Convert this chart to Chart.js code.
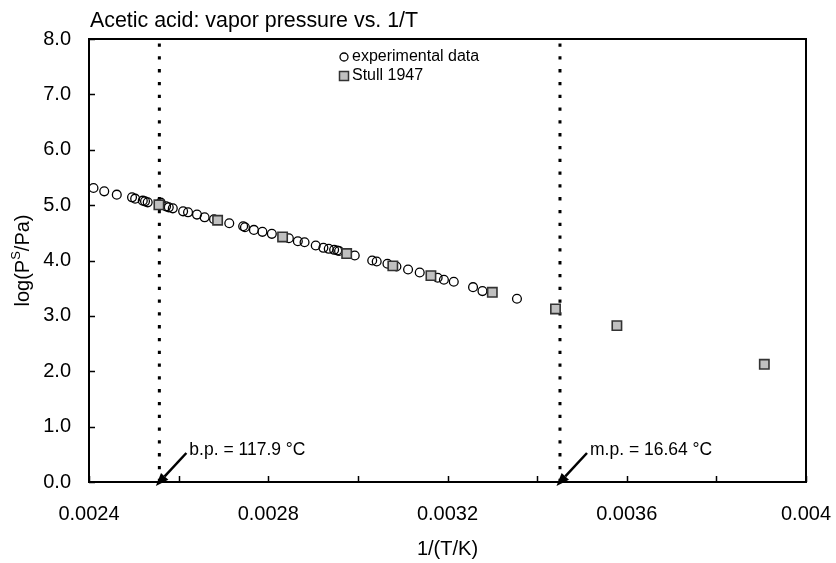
<!DOCTYPE html>
<html><head><meta charset="utf-8">
<script src="https://cdn.jsdelivr.net/npm/chart.js@4/dist/chart.umd.min.js"></script>
<style>html,body{margin:0;padding:0;background:#fff;}#wrap{width:836px;height:563px;}</style>
</head><body><div id="wrap"><canvas id="c" width="836" height="563"></canvas></div>
<script>
const chartTitle = 'Acetic acid: vapor pressure vs. 1/T';
const xAxisTitle = '1/(T/K)';
const yAxisTitleParts = ['log(P', 'S', '/Pa)'];
const legendLabels = ['experimental data', 'Stull 1947'];

const expX = [0.002410,0.002434,0.002462,0.002496,0.002503,0.002520,0.002525,0.002531,0.002560,0.002572,0.002578,0.002587,0.002610,0.002621,0.002641,0.002658,0.002679,0.002713,0.002744,0.002748,0.002768,0.002787,0.002808,0.002846,0.002866,0.002881,0.002906,0.002923,0.002935,0.002947,0.002954,0.002958,0.002993,0.003032,0.003042,0.003066,0.003086,0.003112,0.003138,0.003178,0.003192,0.003214,0.003257,0.003278,0.003355];
const expY = [5.310,5.249,5.189,5.141,5.117,5.081,5.068,5.050,5.045,4.978,4.960,4.942,4.888,4.870,4.829,4.780,4.744,4.672,4.618,4.600,4.553,4.517,4.481,4.402,4.348,4.330,4.270,4.229,4.211,4.193,4.180,4.171,4.090,4.000,3.982,3.941,3.892,3.838,3.784,3.688,3.652,3.616,3.519,3.447,3.310];

const stullX = [0.002556,0.002687,0.002832,0.002975,0.003078,0.003163,0.003300,0.003441,0.003578,0.003907];
const stullY = [5.006,4.727,4.426,4.125,3.903,3.727,3.426,3.125,2.824,2.125];

const markerX = [0.002557, 0.003451];
const markerLabels = ['b.p. = 117.9 °C', 'm.p. = 16.64 °C'];
const yRange = [0, 8];

const xTickValues = [0.0024,0.0026,0.0028,0.0030,0.0032,0.0034,0.0036,0.0038,0.0040];
const xTickLabels = ['0.0024','','0.0028','','0.0032','','0.0036','','0.004'];
const yTickValues = [0,1,2,3,4,5,6,7,8];
const yTickLabels = ['0.0','1.0','2.0','3.0','4.0','5.0','6.0','7.0','8.0'];

const FONT = '"Liberation Sans", Arial, sans-serif';
const INK = '#000';

const toPts = (xs, ys) => xs.map((x, i) => ({x: x, y: ys[i]}));

const vlineSets = markerX.map(x => ({
  type: 'line',
  data: [{x: x, y: yRange[0]}, {x: x, y: yRange[1]}],
  borderColor: INK, borderWidth: 3, borderDash: [3.3, 9.5],
  pointRadius: 0, showLine: true, fill: false, order: 5
}));

const decor = {
  id: 'decor',
  beforeDatasetsDraw(chart) {
    const ctx = chart.ctx, a = chart.chartArea;
    const xs = chart.scales.x, ys = chart.scales.y;
    ctx.save();
    ctx.strokeStyle = INK; ctx.lineWidth = 2;
    ctx.strokeRect(a.left, a.top, a.right - a.left, a.bottom - a.top);
    ctx.lineWidth = 1.5;
    ctx.beginPath();
    xTickValues.forEach(v => { const p = Math.round(xs.getPixelForValue(v)) + 0.5; ctx.moveTo(p, a.bottom); ctx.lineTo(p, a.bottom - 6); });
    yTickValues.forEach(v => { const p = Math.round(ys.getPixelForValue(v)) + 0.5; ctx.moveTo(a.left, p); ctx.lineTo(a.left + 6, p); });
    ctx.stroke();
    ctx.restore();
  },
  afterDraw(chart) {
    const ctx = chart.ctx, a = chart.chartArea;
    const xs = chart.scales.x, ys = chart.scales.y;
    ctx.save();
    ctx.fillStyle = INK;
    // chart title
    ctx.font = '21.4px ' + FONT;
    ctx.textAlign = 'left'; ctx.textBaseline = 'alphabetic';
    ctx.fillText(chartTitle, 90, 27);
    // x axis title
    ctx.font = '20px ' + FONT;
    ctx.textAlign = 'center'; ctx.textBaseline = 'middle';
    ctx.fillText(xAxisTitle, (a.left + a.right) / 2, 549);
    // y axis title with superscript
    ctx.save();
    ctx.translate(23, (a.top + a.bottom) / 2);
    ctx.rotate(-Math.PI / 2);
    ctx.textAlign = 'left'; ctx.textBaseline = 'middle';
    ctx.font = '20px ' + FONT;
    const w0 = ctx.measureText(yAxisTitleParts[0]).width;
    const w2 = ctx.measureText(yAxisTitleParts[2]).width;
    ctx.font = '13px ' + FONT;
    const w1 = ctx.measureText(yAxisTitleParts[1]).width;
    let sx = -(w0 + w1 + w2) / 2;
    ctx.font = '20px ' + FONT;
    ctx.fillText(yAxisTitleParts[0], sx, 0); sx += w0;
    ctx.font = '13px ' + FONT;
    ctx.fillText(yAxisTitleParts[1], sx, -7); sx += w1;
    ctx.font = '20px ' + FONT;
    ctx.fillText(yAxisTitleParts[2], sx, 0);
    ctx.restore();
    // arrows + labels
    markerX.forEach((mx, i) => {
      const px = xs.getPixelForValue(mx), py = ys.getPixelForValue(yRange[0]);
      const tipX = px - 3.5, tipY = py + 4;
      const tailX = px + 27, tailY = py - 29;
      const ang = Math.atan2(tipY - tailY, tipX - tailX);
      const hl = 13, hw = 5;
      const bx = tipX - hl * Math.cos(ang), by = tipY - hl * Math.sin(ang);
      ctx.strokeStyle = INK; ctx.lineWidth = 2.5;
      ctx.beginPath(); ctx.moveTo(tailX, tailY); ctx.lineTo(bx, by); ctx.stroke();
      ctx.beginPath();
      ctx.moveTo(tipX, tipY);
      ctx.lineTo(bx + hw * Math.sin(ang), by - hw * Math.cos(ang));
      ctx.lineTo(bx - hw * Math.sin(ang), by + hw * Math.cos(ang));
      ctx.closePath(); ctx.fill();
      ctx.font = '17.5px ' + FONT;
      ctx.textAlign = 'left'; ctx.textBaseline = 'middle';
      ctx.fillText(markerLabels[i], tailX + 3, tailY - 3);
    });
    // legend
    ctx.font = '16px ' + FONT;
    ctx.textAlign = 'left'; ctx.textBaseline = 'middle';
    ctx.lineWidth = 1.3; ctx.strokeStyle = INK;
    ctx.beginPath(); ctx.arc(344, 57, 4, 0, Math.PI * 2); ctx.stroke();
    ctx.fillText(legendLabels[0], 352, 57);
    ctx.fillStyle = '#c0c0c0'; ctx.fillRect(339.5, 71.5, 9, 9);
    ctx.strokeStyle = '#333'; ctx.lineWidth = 1.5; ctx.strokeRect(339.5, 71.5, 9, 9);
    ctx.fillStyle = INK;
    ctx.fillText(legendLabels[1], 352, 76);
    ctx.restore();
  }
};

new Chart(document.getElementById('c'), {
  type: 'scatter',
  data: {
    datasets: [
      {
        label: legendLabels[1], data: toPts(stullX, stullY),
        pointStyle: 'rect', pointRadius: 6.6, pointBorderWidth: 1.6,
        backgroundColor: '#c0c0c0', borderColor: '#333', order: 1
      },
      {
        label: legendLabels[0], data: toPts(expX, expY),
        pointStyle: 'circle', pointRadius: 4.4, pointBorderWidth: 1.3,
        backgroundColor: 'rgba(0,0,0,0)', borderColor: INK, order: 2
      },
      ...vlineSets
    ]
  },
  plugins: [decor],
  options: {
    responsive: false, animation: false, devicePixelRatio: 1,
    layout: { padding: { top: 39, right: 30, left: 0, bottom: 0 } },
    plugins: { legend: { display: false }, tooltip: { enabled: false }, title: { display: false } },
    scales: {
      x: {
        type: 'linear', min: 0.0024, max: 0.004,
        grid: { display: false, drawTicks: false }, border: { display: false },
        afterBuildTicks: s => { s.ticks = xTickValues.map(v => ({ value: v })); },
        afterFit: s => { s.height = 81; s.paddingLeft = 0; s.paddingRight = 0; },
        ticks: { autoSkip: false, maxRotation: 0, padding: 20, color: INK, font: { size: 20, family: FONT },
          callback: (v, i) => xTickLabels[i] }
      },
      y: {
        type: 'linear', min: 0, max: 8,
        grid: { display: false, drawTicks: false }, border: { display: false },
        afterBuildTicks: s => { s.ticks = yTickValues.map(v => ({ value: v })); },
        afterFit: s => { s.width = 89; s.paddingTop = 0; s.paddingBottom = 0; },
        ticks: { autoSkip: false, padding: 18, color: INK, font: { size: 20, family: FONT },
          callback: (v, i) => yTickLabels[i] }
      }
    }
  }
});
</script></body></html>
